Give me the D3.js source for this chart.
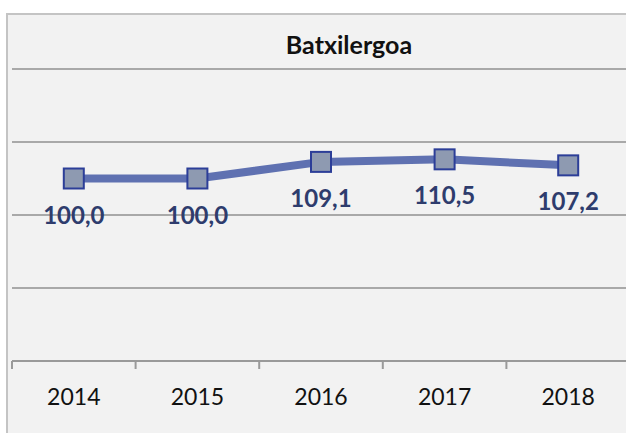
<!DOCTYPE html>
<html>
<head>
<meta charset="utf-8">
<script src="https://cdn.jsdelivr.net/npm/d3@7"></script>
<style>
  body { margin: 0; background: #fff; }
  svg { display: block; }
</style>
</head>
<body>
<script>
var width = 626,
    height = 433;

// chart data
var years = ["2014", "2015", "2016", "2017", "2018"],
    values = [100.0, 100.0, 109.1, 110.5, 107.2],
    y_ticks = [0, 40, 80, 120, 160],
    title = "Batxilergoa";

var fmt = function(v) { return d3.format(".1f")(v).replace(".", ","); };

var svg = d3.select("body")
            .append("svg")
            .attr("width", width)
            .attr("height", height);

// chart frame (right and bottom run off the picture)
svg.append("rect")
   .attr("x", 7).attr("y", 14)
   .attr("width", 660).attr("height", 460)
   .attr("fill", "#f2f2f2")
   .attr("stroke", "#c4c4c4")
   .attr("stroke-width", 2);

var x = d3.scaleBand()
          .domain(years)
          .range([12, 630]);

var y = d3.scaleLinear()
          .domain([0, 160])
          .range([361, 69]);

// gridlines
svg.append("g")
   .selectAll("line")
   .data(y_ticks.slice(1))
   .enter().append("line")
   .attr("x1", 12).attr("x2", width)
   .attr("y1", function(d) { return y(d); })
   .attr("y2", function(d) { return y(d); })
   .attr("stroke", "#a9a9a9")
   .attr("stroke-width", 2);

// x axis
var x_axis = svg.append("g")
   .attr("transform", "translate(0," + y(0) + ")")
   .call(d3.axisBottom(x).tickSize(0).tickPadding(0));
x_axis.select(".domain").remove();
x_axis.append("line")
   .attr("x1", 12).attr("x2", width)
   .attr("stroke", "#9a9a9a").attr("stroke-width", 2);
x_axis.selectAll(".sep")
   .data(years)
   .enter().append("line")
   .attr("class", "sep")
   .attr("x1", function(d) { return x(d); })
   .attr("x2", function(d) { return x(d); })
   .attr("y1", 0).attr("y2", 8)
   .attr("stroke", "#9a9a9a").attr("stroke-width", 2);
x_axis.selectAll(".tick text")
   .attr("y", 44)
   .attr("dy", 0)
   .attr("fill", "#111")
   .style("font-family", "Lato, sans-serif")
   .style("font-size", "23px");

// title
svg.append("text")
   .attr("x", 349).attr("y", 54)
   .attr("text-anchor", "middle")
   .attr("fill", "#111")
   .style("font-family", "Lato, sans-serif")
   .style("font-weight", "bold")
   .style("font-size", "25px")
   .text(title);

var cx = function(d, i) { return x(years[i]) + x.bandwidth() / 2; };

// line
svg.append("path")
   .datum(values)
   .attr("fill", "none")
   .attr("stroke", "#5f71b1")
   .attr("stroke-width", 8)
   .attr("d", d3.line().x(cx).y(function(d) { return y(d); }));

// markers
svg.append("g")
   .selectAll("rect")
   .data(values)
   .enter().append("rect")
   .attr("x", function(d, i) { return cx(d, i) - 10; })
   .attr("y", function(d) { return y(d) - 10; })
   .attr("width", 20).attr("height", 20)
   .attr("fill", "#8e9ab1")
   .attr("stroke", "#2c3e98")
   .attr("stroke-width", 2);

// value labels
svg.append("g")
   .selectAll("text")
   .data(values)
   .enter().append("text")
   .attr("x", cx)
   .attr("y", function(d) { return y(d) + 45; })
   .attr("text-anchor", "middle")
   .attr("fill", "#2e3c6d")
   .style("font-family", "Lato, sans-serif")
   .style("font-weight", "bold")
   .style("font-size", "24px")
   .text(fmt);
</script>
</body>
</html>
